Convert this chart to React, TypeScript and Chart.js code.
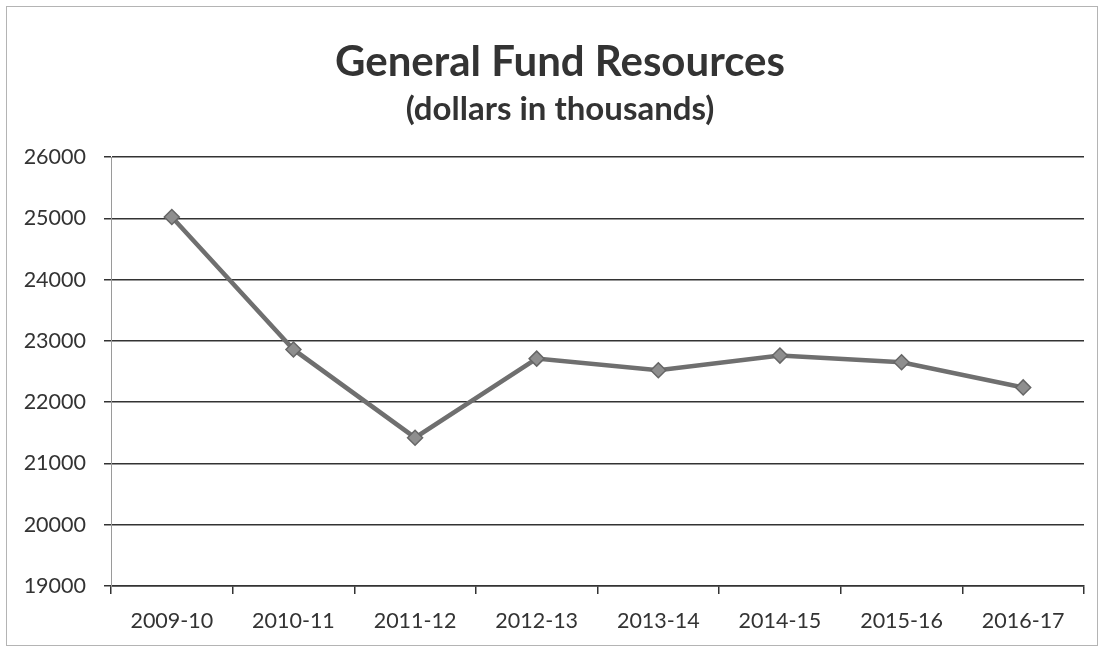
import React, { useEffect, useRef } from "react";
import { Chart, registerables } from "chart.js";

Chart.register(...registerables);

const categories: string[] = ["2009-10", "2010-11", "2011-12", "2012-13", "2013-14", "2014-15", "2015-16", "2016-17"];
const resources: number[] = [25020, 22860, 21420, 22710, 22520, 22760, 22650, 22240];
const yMin = 19000;
const yMax = 26000;
const yStep = 1000;
const titleText = "General Fund Resources";
const subtitleText = "(dollars in thousands)";

const FONT = "Lato, 'Open Sans', sans-serif";

const headingPlugin = {
  id: "heading",
  afterDraw(chart: any) {
    const ctx = chart.ctx;
    ctx.save();
    ctx.fillStyle = "#333333";
    ctx.textAlign = "center";
    ctx.textBaseline = "middle";
    ctx.font = `bold 42px ${FONT}`;
    ctx.fillText(titleText, 560, 62);
    ctx.font = `bold 33px ${FONT}`;
    ctx.fillText(subtitleText, 560, 109);
    ctx.restore();
  },
};

export default function App() {
  const canvasRef = useRef<HTMLCanvasElement | null>(null);

  useEffect(() => {
    if (!canvasRef.current) return;
    const chart = new Chart(canvasRef.current, {
      type: "line",
      data: {
        labels: categories,
        datasets: [
          {
            label: titleText,
            data: resources,
            borderColor: "#6f6f6f",
            borderWidth: 4.5,
            pointStyle: "rectRot",
            pointRadius: 7.5,
            pointBackgroundColor: "#8e8e8e",
            pointBorderColor: "#666666",
            pointBorderWidth: 1.5,
            tension: 0,
            fill: false,
          },
        ],
      },
      plugins: [headingPlugin],
      options: {
        responsive: false,
        animation: false,
        layout: { padding: { left: 0, right: 18, top: 157, bottom: 0 } },
        plugins: {
          legend: { display: false },
          tooltip: { enabled: false },
          title: { display: false },
        },
        scales: {
          x: {
            type: "category",
            offset: true,
            afterFit: (scale: any) => {
              scale.height = 61;
            },
            grid: {
              display: true,
              drawOnChartArea: false,
              drawTicks: true,
              offset: true,
              tickLength: 8,
              color: "#333333",
              lineWidth: 1.5,
            },
            border: { display: true, color: "#333333", width: 1.5 },
            ticks: {
              color: "#333333",
              font: { family: FONT, size: 21.5 },
              padding: 14,
              maxRotation: 0,
            },
          },
          y: {
            min: yMin,
            max: yMax,
            afterFit: (scale: any) => {
              scale.width = 111;
            },
            grid: {
              color: "#333333",
              lineWidth: 1.5,
              tickLength: 7,
            },
            border: { display: true, color: "#9a9a9a", width: 1 },
            ticks: {
              stepSize: yStep,
              color: "#333333",
              font: { family: FONT, size: 21.5 },
              padding: 18,
              callback: (v: any) => String(v),
            },
          },
        },
      },
    });
    return () => chart.destroy();
  }, []);

  return (
    <div style={{ position: "absolute", left: 0, top: 0, width: 1102, height: 647, background: "#ffffff" }}>
      <canvas ref={canvasRef} width={1102} height={647} style={{ position: "absolute", left: 0, top: 0 }} />
      <div
        style={{
          position: "absolute",
          left: 6,
          top: 6,
          width: 1090,
          height: 638,
          border: "1px solid #b4b4b4",
          pointerEvents: "none",
        }}
      />
    </div>
  );
}
